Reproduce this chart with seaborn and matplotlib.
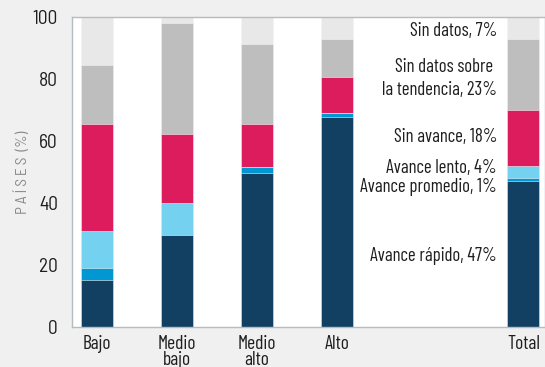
import numpy as np
import pandas as pd
import matplotlib
matplotlib.use("Agg")
import matplotlib.pyplot as plt
import seaborn as sns

categories = ["Bajo", "Medio\nbajo", "Medio\nalto", "Alto", "Total"]
positions = [0, 1, 2, 3, 5.33]

avance_rapido = [15.2, 29.7, 49.8, 67.8, 47]
avance_promedio = [3.8, 0.0, 1.8, 1.1, 1]
avance_lento = [12.0, 10.2, 0.0, 0.0, 4]
sin_avance = [34.5, 22.4, 13.9, 11.7, 18]
sin_tendencia = [19.0, 35.8, 25.9, 12.3, 23]
sin_datos = [15.5, 1.9, 8.6, 7.1, 7]

series = [
    ("Avance rápido", avance_rapido, "#124062"),
    ("Avance promedio", avance_promedio, "#0097D2"),
    ("Avance lento", avance_lento, "#74D1F0"),
    ("Sin avance", sin_avance, "#DD1C5E"),
    ("Sin datos sobre la tendencia", sin_tendencia, "#BEBEBE"),
    ("Sin datos", sin_datos, "#E8E8E8"),
]

labels = [
    ("Sin datos, 7%", 95.5),
    ("Sin datos sobre \nla tendencia, 23%", 80.3),
    ("Sin avance, 18%", 61.3),
    ("Avance lento, 4%", 51.2),
    ("Avance promedio, 1%", 45.0),
    ("Avance rápido, 47%", 23.0),
]

sns.set_style("white")
plt.rcParams["font.family"] = ["Barlow Condensed", "DejaVu Sans"]

fig = plt.figure(figsize=(5.45, 3.67), dpi=100, facecolor="#F0F0F0")
ax = fig.add_axes([72 / 545, 40 / 367, 473 / 545, 310 / 367])
ax.set_facecolor("white")

# cumulative tops, drawn from the top layer down so lower layers sit in front
cum = np.cumsum(np.array([s[1] for s in series]), axis=0)
for i in range(len(series) - 1, -1, -1):
    df = pd.DataFrame({"pos": positions, "val": cum[i]})
    sns.barplot(data=df, x="pos", y="val", native_scale=True, width=0.4,
                color=series[i][2], saturation=1, edgecolor="#f4f4f4",
                linewidth=0.4, ax=ax, errorbar=None)

for text, y in labels:
    ax.text(5.0, y, text, ha="right", va="center", fontsize=13.5,
            color="#1e1e1e", linespacing=1.35)

ax.set_xlim(-0.3125, 5.6)
ax.set_ylim(0, 100)
ax.set_xticks(positions)
ax.set_xticklabels(categories, fontsize=14, color="#1e1e1e", linespacing=0.85)
ax.set_yticks([0, 20, 40, 60, 80, 100])
ax.set_yticklabels(["0", "20", "40", "60", "80", "100"], fontsize=14,
                   color="#1e1e1e", family=["Barlow Semi Condensed", "DejaVu Sans"])
ax.tick_params(axis="both", length=0)
ax.tick_params(axis="x", pad=6)
ax.tick_params(axis="y", pad=10)
ax.set_xlabel("")
ax.set_ylabel("\u2009".join("PAÍSES") + "\u2009 (%)", fontsize=11, color="#8a8a8a",
              labelpad=2, family=["Barlow Semi Condensed", "DejaVu Sans"])
for sp in ax.spines.values():
    sp.set_color("#B4BCC0")
    sp.set_linewidth(1.0)

fig.savefig("out.png", dpi=100, facecolor=fig.get_facecolor())
